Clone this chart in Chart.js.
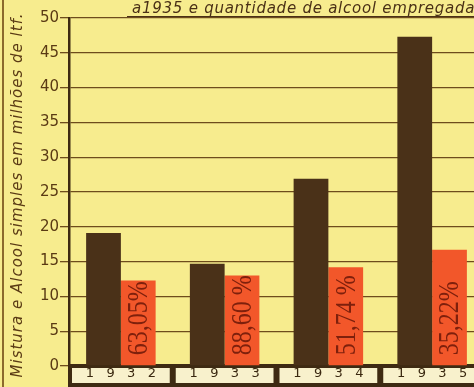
<!DOCTYPE html>
<html>
<head>
<meta charset="utf-8">
<script src="https://cdn.jsdelivr.net/npm/chart.js@4"></script>
<style>
  html, body { margin: 0; padding: 0; overflow: hidden; background: #f7ec8e; }
  #wrap { width: 484px; height: 387px; position: relative; }
</style>
</head>
<body>
<div id="wrap"><canvas id="graph-alcool"></canvas></div>
<script>
const years = ['1932', '1933', '1934', '1935'];
const mistura = [19.1, 14.7, 26.9, 47.3];
const alcool = [12.3, 13.0, 14.2, 16.7];
const percentLabels = ['63,05%', '88,60 %', '51,74 %', '35,22%'];
const titleText = 'a1935 e quantidade de alcool empregada';
const yTitle = 'Mistura e Alcool simples em milhões de ltf.';

const ink = '#4a3118';
const gridInk = '#6e4c1c';

// boxes under the years + scan border + titles
const decorPlugin = {
    id: 'decor',
    beforeDraw(chart) {
        const ctx = chart.ctx;
        const x = chart.scales.x;
        const area = chart.chartArea;
        ctx.save();
        // scan border on the left
        ctx.fillStyle = '#8c6a2c';
        ctx.fillRect(2, 0, 2, chart.height);
        // dark strip with light boxes for the years
        ctx.fillStyle = '#3e2a12';
        ctx.fillRect(area.left - 1, area.bottom - 2, chart.width, chart.height - area.bottom + 2);
        const w = x.width / years.length;
        years.forEach((y, i) => {
            const cx = x.getPixelForValue(i);
            ctx.fillStyle = '#f8f1cc';
            ctx.fillRect(cx - w / 2 + 3, area.bottom + 2, w - 6, 15);
        });
        // title, cut at the top of the picture
        ctx.fillStyle = '#4a3016';
        ctx.font = 'italic 15px "DejaVu Sans"';
        ctx.letterSpacing = '0.75px';
        ctx.textBaseline = 'alphabetic';
        ctx.fillText(titleText, 132, 13);
        ctx.fillRect(127, 16, chart.width, 1.3);
        // y axis title
        ctx.save();
        ctx.translate(18, (12 + 378) / 2);
        ctx.rotate(-Math.PI / 2);
        ctx.textAlign = 'center';
        ctx.textBaseline = 'middle';
        ctx.fillStyle = '#5a3a14';
        ctx.letterSpacing = '1px';
        ctx.font = 'italic 15px "DejaVu Sans"';
        ctx.fillText(yTitle, 0, 0);
        ctx.restore();
        ctx.restore();
    },
    afterDatasetsDraw(chart) {
        const ctx = chart.ctx;
        const meta = chart.getDatasetMeta(1);
        ctx.save();
        ctx.fillStyle = '#7e200c';
        ctx.font = '30px "Liberation Serif"';
        ctx.textBaseline = 'middle';
        meta.data.forEach((bar, i) => {
            ctx.save();
            ctx.translate(bar.x, bar.base - 10);
            ctx.rotate(-Math.PI / 2);
            ctx.scale(0.8, 1);
            ctx.fillText(percentLabels[i], 0, 1);
            ctx.restore();
        });
        ctx.restore();
    }
};

var graphAlcool = document.getElementById('graph-alcool').getContext('2d');
var alcoolChart = new Chart(graphAlcool, {
    type: 'bar',
    data: {
        labels: years,
        datasets: [{
            label: 'Mistura',
            backgroundColor: ink,
            data: mistura
        }, {
            label: 'Alcool',
            backgroundColor: '#f2572a',
            data: alcool
        }]
    },
    options: {
        responsive: true,
        maintainAspectRatio: false,
        animation: false,
        barPercentage: 1,
        categoryPercentage: 0.67,
        layout: { padding: { top: 18, left: 9, right: 0, bottom: 0 } },
        plugins: {
            legend: { display: false },
            tooltip: { enabled: false }
        },
        scales: {
            x: {
                grid: { display: false, drawTicks: false },
                border: { display: true, color: '#3e2a12', width: 3 },
                ticks: {
                    color: '#3a2810',
                    padding: 0,
                    font: { family: 'DejaVu Sans', size: 13 },
                    callback: function (v) { return years[v].split('').join('   '); }
                },
                afterFit: s => { s.height = 21; }
            },
            y: {
                min: 0,
                max: 50,
                ticks: {
                    stepSize: 5,
                    color: '#5a3a14',
                    padding: 1,
                    font: { family: 'DejaVu Sans', size: 15 }
                },
                grid: {
                    color: gridInk,
                    lineWidth: 1.3,
                    tickLength: 9,
                    drawTicks: true
                },
                border: { display: true, color: '#3e2a12', width: 2.5 },
                afterFit: s => { s.width = 60; }
            }
        }
    },
    plugins: [decorPlugin]
});
</script>
</body>
</html>
